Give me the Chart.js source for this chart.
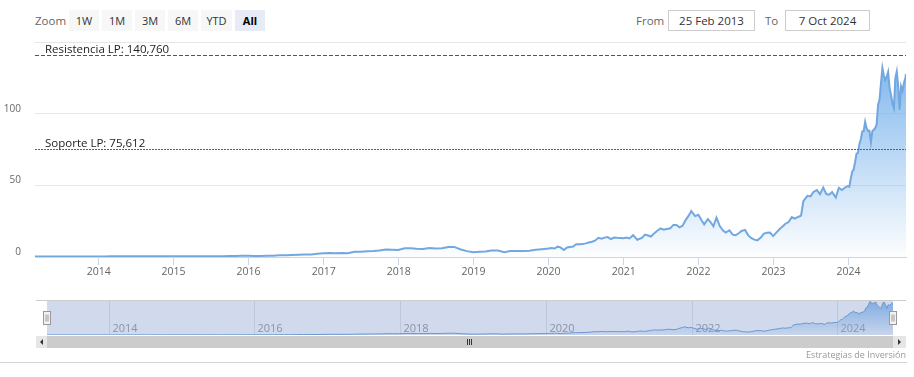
<!DOCTYPE html>
<html>
<head>
<meta charset="utf-8">
<script src="https://cdn.jsdelivr.net/npm/chart.js@4.4.1/dist/chart.umd.min.js"></script>
<style>
html,body{margin:0;padding:0;background:#fff;}
body{width:914px;height:377px;position:relative;overflow:hidden;font-family:"Open Sans",sans-serif;}
.abs{position:absolute;}
.lbl{color:#666;font-size:11.5px;line-height:21px;top:10px;}
.btn{top:10px;height:21px;width:30px;background:#f7f7f7;color:#333;font-size:11px;line-height:21px;text-align:center;}
.btn.sel{background:#e6ebf5;font-weight:bold;color:#000;}
.inp{top:10px;height:19px;border:1px solid #ccc;color:#333;font-size:11.5px;line-height:19px;text-align:center;background:#fff;}
canvas{position:absolute;left:0;}
#main{top:0;}
#nav{top:290px;}
.sbtn{top:336px;height:12px;background:#e6e6e6;}
.arrL{position:absolute;left:4px;top:3px;width:0;height:0;border-top:3px solid transparent;border-bottom:3px solid transparent;border-right:3px solid #333;}
.arrR{position:absolute;left:5px;top:3px;width:0;height:0;border-top:3px solid transparent;border-bottom:3px solid transparent;border-left:3px solid #333;}
.grip{position:absolute;top:3px;width:1px;height:6px;background:#333;}
</style>
</head>
<body>
<div class="abs lbl" style="left:35px">Zoom</div>
<div class="abs btn" style="left:69px">1W</div>
<div class="abs btn" style="left:102px">1M</div>
<div class="abs btn" style="left:135px">3M</div>
<div class="abs btn" style="left:168px">6M</div>
<div class="abs btn" style="left:201px;width:31px">YTD</div>
<div class="abs btn sel" style="left:235px">All</div>
<div class="abs lbl" style="left:636px">From</div>
<div class="abs inp" style="left:668px;width:85px">25 Feb 2013</div>
<div class="abs lbl" style="left:765px">To</div>
<div class="abs inp" style="left:785px;width:83px">7 Oct 2024</div>

<canvas id="main" width="914" height="290"></canvas>
<canvas id="nav" width="914" height="55"></canvas>

<div class="abs sbtn" style="left:36px;width:11px"><div class="arrL"></div></div>
<div class="abs" style="left:47px;top:336px;width:846px;height:12px;background:#cccccc">
  <div class="grip" style="left:420px"></div><div class="grip" style="left:422px"></div><div class="grip" style="left:424px"></div>
</div>
<div class="abs sbtn" style="left:893px;width:13px"><div class="arrR"></div></div>
<div class="abs" style="right:8px;top:349px;font-size:9px;color:#999;line-height:12px">Estrategias de Inversión</div>
<div class="abs" style="left:0;top:362px;width:907px;height:1px;background:#d4d4d4"></div>

<script>
// ---------------- DATA ----------------
const dates = [
  '2013-02-25','2013-03-28','2013-04-30','2013-05-31','2013-06-28','2013-07-31','2013-08-30','2013-09-30','2013-10-31','2013-11-29','2013-12-31',
  '2014-01-31','2014-02-28','2014-03-31','2014-04-30','2014-05-30','2014-06-30','2014-07-31','2014-08-29','2014-09-30','2014-10-31','2014-11-28','2014-12-31',
  '2015-01-30','2015-02-27','2015-03-31','2015-04-30','2015-05-29','2015-06-30','2015-07-31','2015-08-31','2015-09-30','2015-10-30','2015-11-30','2015-12-31',
  '2016-01-29','2016-02-29','2016-03-31','2016-04-29','2016-05-31','2016-06-30','2016-07-29','2016-08-31','2016-09-30','2016-10-31','2016-11-30','2016-12-30',
  '2017-01-31','2017-02-28','2017-03-31','2017-04-28','2017-05-31','2017-06-30','2017-07-31','2017-08-31','2017-09-29','2017-10-31','2017-11-30','2017-12-29',
  '2018-01-31','2018-02-28','2018-03-29','2018-04-30','2018-05-31','2018-06-29','2018-07-31','2018-08-31','2018-09-28','2018-10-31','2018-11-30','2018-12-31',
  '2019-01-31','2019-02-28','2019-03-29','2019-04-30','2019-05-31','2019-06-28','2019-07-31','2019-08-30','2019-09-30','2019-10-31','2019-11-29','2019-12-31',
  '2020-01-15','2020-01-31','2020-02-14','2020-02-28','2020-03-16','2020-03-31','2020-04-15','2020-04-30','2020-05-15','2020-05-29','2020-06-15','2020-06-30',
  '2020-07-15','2020-07-31','2020-08-14','2020-08-31','2020-09-15','2020-09-30','2020-10-15','2020-10-30','2020-11-16','2020-11-30','2020-12-15','2020-12-31',
  '2021-01-15','2021-01-29','2021-02-16','2021-02-26','2021-03-08','2021-03-31','2021-04-15','2021-04-30','2021-05-14','2021-05-28','2021-06-15','2021-06-30',
  '2021-07-15','2021-07-30','2021-08-16','2021-08-31','2021-09-15','2021-09-30','2021-10-15','2021-10-29','2021-11-15','2021-11-26','2021-12-15','2021-12-31',
  '2022-01-14','2022-01-28','2022-02-15','2022-02-28','2022-03-14','2022-03-29','2022-04-14','2022-04-29','2022-05-13','2022-05-31','2022-06-16','2022-06-30',
  '2022-07-15','2022-07-29','2022-08-15','2022-08-31','2022-09-15','2022-09-30','2022-10-14','2022-10-31','2022-11-15','2022-11-30','2022-12-15','2022-12-30',
  '2023-01-13','2023-01-31','2023-02-15','2023-02-28','2023-03-15','2023-03-31','2023-04-14','2023-04-28','2023-05-15','2023-05-26','2023-06-15','2023-06-30',
  '2023-07-14','2023-07-31','2023-08-15','2023-08-31','2023-09-15','2023-09-29','2023-10-13','2023-10-31','2023-11-15','2023-11-30','2023-12-15','2023-12-29',
  '2024-01-05','2024-01-12','2024-01-19','2024-01-26','2024-02-02','2024-02-09','2024-02-16','2024-02-23','2024-03-01','2024-03-08','2024-03-15','2024-03-22',
  '2024-03-28','2024-04-05','2024-04-12','2024-04-19','2024-04-26','2024-05-03','2024-05-10','2024-05-17','2024-05-24','2024-05-31','2024-06-07','2024-06-14',
  '2024-06-21','2024-06-28','2024-07-05','2024-07-12','2024-07-19','2024-07-26','2024-08-02','2024-08-09','2024-08-16','2024-08-23','2024-08-30','2024-09-06',
  '2024-09-13','2024-09-20','2024-09-27','2024-10-04','2024-10-07'
];
const prices = [
  0.31,0.32,0.34,0.37,0.35,0.35,0.37,0.39,0.38,0.39,0.40,
  0.37,0.45,0.45,0.46,0.47,0.46,0.44,0.49,0.46,0.49,0.52,0.50,
  0.50,0.57,0.52,0.55,0.55,0.50,0.50,0.56,0.62,0.71,0.80,0.82,
  0.73,0.78,0.89,0.89,1.17,1.17,1.43,1.53,1.71,1.72,2.30,2.67,
  2.73,2.53,2.72,2.60,3.60,3.61,4.06,4.12,4.47,5.17,5.00,4.84,
  6.14,6.07,5.79,5.62,6.31,5.92,6.12,7.01,7.03,5.27,4.09,3.34,
  3.59,3.85,4.49,4.52,3.39,4.11,4.22,4.19,4.35,5.03,5.42,5.88,
  6.2,5.91,7.2,6.74,4.9,6.59,7.0,7.31,8.9,8.88,9.0,9.50,
  10.1,10.62,11.4,13.38,12.8,13.53,13.9,12.53,13.6,13.40,13.3,13.05,
  13.6,12.98,15.2,13.71,12.0,13.35,15.6,15.01,14.3,16.30,18.5,20.00,
  19.0,19.50,20.0,22.38,22.4,20.72,21.8,25.57,29.2,32.0,28.5,29.41,
  26.0,22.8,26.5,24.39,21.4,27.5,21.6,18.55,17.0,18.67,15.6,15.16,
  16.6,18.16,18.9,15.09,13.1,12.14,11.6,13.50,16.3,16.92,17.1,14.61,
  16.8,19.54,21.4,23.22,24.4,27.78,26.7,27.75,28.9,38.9,42.7,42.30,
  45.4,46.73,43.9,48.5,43.9,43.50,45.4,41.5,48.3,46.77,48.5,49.52,
  49.0,54.7,59.5,61.0,66.1,72.1,72.6,78.9,82.2,87.5,87.9,94.3,
  90.4,88.0,88.1,80.0,87.8,88.8,89.9,92.5,106.5,109.6,120.9,131.9,
  126.6,123.5,125.8,129.2,117.9,113.1,107.3,104.0,124.6,129.4,119.4,102.8,
  119.1,116.0,121.4,124.9,127.7
];
const yTicks = [0, 50, 100, 150];
const yearTicks = [2014, 2015, 2016, 2017, 2018, 2019, 2020, 2021, 2022, 2023, 2024];
const navYearTicks = [2014, 2016, 2018, 2020, 2022, 2024];
const levelValues = [140.760, 75.612];
const levelLabels = ['Resistencia LP: 140,760', 'Soporte LP: 75,612'];

// ---------------- CHART ----------------
const FONT = '"Open Sans", sans-serif';
Chart.defaults.font.family = FONT;
const levelColors = ['#1e7a1e', '#b43c3c'];
const levelDashes = [[4, 2], [2, 1]];

const toTime = d => Date.parse(d + 'T00:00:00Z');
const points = dates.map((d, i) => ({ x: toTime(d), y: prices[i] }));
const xMin = points[0].x, xMax = points[points.length - 1].x;
const yearTime = y => Date.UTC(y, 0, 1);

function areaFill(context, topOffset, a0, a1) {
  const c = context.chart, a = c.chartArea;
  if (!a) return 'rgba(124,181,236,0.3)';
  const g = c.ctx.createLinearGradient(0, a.top + topOffset, 0, a.bottom);
  g.addColorStop(0, 'rgba(124,181,236,' + a0 + ')');
  g.addColorStop(1, 'rgba(124,181,236,' + a1 + ')');
  return g;
}

const levelsPlugin = {
  id: 'levels',
  afterDatasetsDraw(chart) {
    const { ctx, chartArea: a, scales: { y } } = chart;
    ctx.save();
    levelValues.forEach((v, i) => {
      const py = Math.round(y.getPixelForValue(v)) + 0.5;
      ctx.strokeStyle = levelColors[i];
      ctx.lineWidth = 1;
      ctx.setLineDash(levelDashes[i]);
      ctx.beginPath();
      ctx.moveTo(a.left, py);
      ctx.lineTo(a.right, py);
      ctx.stroke();
      ctx.setLineDash([]);
      ctx.fillStyle = '#222';
      ctx.font = '11.5px ' + FONT;
      ctx.textBaseline = 'alphabetic';
      ctx.textAlign = 'left';
      ctx.fillText(levelLabels[i], a.left + 10, py - 3);
    });
    ctx.restore();
  }
};

new Chart(document.getElementById('main'), {
  type: 'line',
  data: {
    datasets: [{
      data: points,
      borderColor: '#72a8df',
      borderWidth: 2,
      pointRadius: 0,
      tension: 0,
      fill: 'origin',
      backgroundColor: ctx => areaFill(ctx, 25, 0.95, 0.02)
    }]
  },
  options: {
    responsive: false,
    animation: false,
    devicePixelRatio: 1,
    layout: { padding: { top: 42, right: 8, left: 0, bottom: 0 } },
    plugins: { legend: { display: false }, tooltip: { enabled: false } },
    scales: {
      x: {
        type: 'linear', min: xMin, max: xMax,
        afterBuildTicks: s => { s.ticks = yearTicks.map(y => ({ value: yearTime(y) })); },
        afterFit: s => { s.height = 33; },
        grid: { drawOnChartArea: false, color: '#ccd6eb', tickLength: 8 },
        border: { color: '#ccd6eb' },
        ticks: { autoSkip: false, maxRotation: 0, padding: 1, color: '#666', font: { size: 10.5 },
          callback: v => String(new Date(v).getUTCFullYear()) }
      },
      y: {
        min: 0, max: 150,
        afterBuildTicks: s => { s.ticks = yTicks.map(v => ({ value: v })); },
        afterFit: s => { s.width = 35; },
        grid: { color: '#e6e6e6', drawTicks: false },
        border: { display: false },
        ticks: { padding: 14, labelOffset: -5, color: '#666', font: { size: 10 },
          callback: v => (v === yTicks[yTicks.length - 1] ? '' : String(v)) }
      }
    }
  },
  plugins: [levelsPlugin]
});

// ---------------- NAVIGATOR ----------------
const navPlugin = {
  id: 'nav',
  beforeDatasetsDraw(chart) {
    const { ctx, chartArea: a, scales: { x } } = chart;
    ctx.save();
    ctx.strokeStyle = '#e6e6e6';
    ctx.lineWidth = 1;
    ctx.fillStyle = '#999';
    ctx.font = '11px ' + FONT;
    ctx.textBaseline = 'alphabetic';
    navYearTicks.forEach(yr => {
      const px = Math.round(x.getPixelForValue(yearTime(yr))) + 0.5;
      ctx.beginPath(); ctx.moveTo(px, a.top); ctx.lineTo(px, a.bottom); ctx.stroke();
      ctx.fillText(String(yr), px + 3, a.bottom - 3);
    });
    ctx.restore();
  },
  afterDatasetsDraw(chart) {
    const { ctx, chartArea: a } = chart;
    ctx.save();
    ctx.fillStyle = 'rgba(102,133,194,0.3)';
    ctx.fillRect(a.left, a.top, a.right - a.left, a.bottom - a.top);
    ctx.strokeStyle = '#cccccc';
    ctx.lineWidth = 1;
    ctx.beginPath(); ctx.moveTo(36, a.top + 0.5); ctx.lineTo(906, a.top + 0.5); ctx.stroke();
    [a.left, a.right].forEach(hx => {
      const x0 = Math.round(hx) - 3.5, y0 = a.top + 11.5;
      ctx.fillStyle = '#f2f2f2';
      ctx.strokeStyle = '#999';
      ctx.fillRect(x0, y0, 7, 13);
      ctx.strokeRect(x0, y0, 7, 13);
      ctx.beginPath();
      ctx.moveTo(x0 + 2.5, y0 + 3); ctx.lineTo(x0 + 2.5, y0 + 10);
      ctx.moveTo(x0 + 4.5, y0 + 3); ctx.lineTo(x0 + 4.5, y0 + 10);
      ctx.stroke();
    });
    ctx.restore();
  }
};

new Chart(document.getElementById('nav'), {
  type: 'line',
  data: {
    datasets: [{
      data: points,
      borderColor: '#6a9fd8',
      borderWidth: 1,
      pointRadius: 0,
      tension: 0,
      fill: 'origin',
      backgroundColor: ctx => areaFill(ctx, 0, 0.9, 0.1)
    }]
  },
  options: {
    responsive: false,
    animation: false,
    devicePixelRatio: 1,
    layout: { padding: { top: 10, right: 21, left: 47, bottom: 10 } },
    plugins: { legend: { display: false }, tooltip: { enabled: false } },
    scales: {
      x: { type: 'linear', display: false, min: xMin, max: xMax },
      y: { display: false, min: 0, max: Math.max(...prices) * 1.04 }
    }
  },
  plugins: [navPlugin]
});
</script>
</body>
</html>
